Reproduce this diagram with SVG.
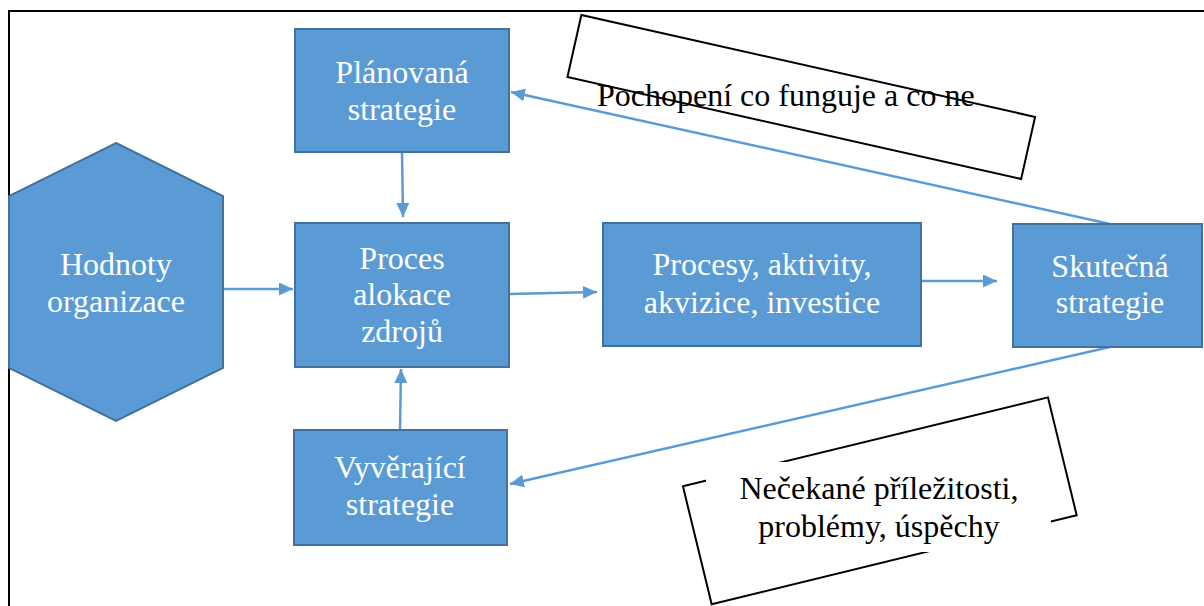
<svg xmlns="http://www.w3.org/2000/svg" width="1204" height="606" viewBox="0 0 1204 606">
<style>
.node{fill:#5B9BD5;stroke:#41719C;stroke-width:2}
.lbl{fill:#fff;text-anchor:middle}
.note{fill:#000}
.conn{stroke:#5B9BD5;stroke-width:2.5;fill:none;marker-end:url(#ah)}
.frame{fill:#fff;stroke:#000;stroke-width:2}
</style>
<defs>
<marker id="ah" markerUnits="userSpaceOnUse" markerWidth="16" markerHeight="14" refX="14" refY="6.5" orient="auto">
<path d="M0,0 L14,6.5 L0,13 z" fill="#5B9BD5"/>
</marker>
</defs>
<rect width="1204" height="606" fill="#fff"/>
<path d="M9,606 V11 H1204" fill="none" stroke="#000" stroke-width="2"/>

<g font-family="'Liberation Serif', 'Times New Roman', serif" font-size="32">
<g id="note-pochopeni">
<rect class="frame" x="-232.5" y="-31.8" width="465" height="63.6" transform="translate(801.25 97) rotate(12.66)"/>
<text class="note" x="597" y="106">Pochopení co funguje a co ne</text>
</g>

<g id="note-necekane">
<rect class="frame" x="-187.8" y="-60.6" width="375.7" height="121.3" transform="translate(879.75 500.75) rotate(-13.7)"/>
<rect x="706" y="462" width="345" height="90" fill="#fff"/>
<text class="note" text-anchor="middle" x="879" y="499">Nečekané příležitosti,</text>
<text class="note" text-anchor="middle" x="879" y="537">problémy, úspěchy</text>
</g>

<g id="connectors">
<line class="conn" x1="402" y1="153" x2="403" y2="217"/>
<line class="conn" x1="223" y1="289" x2="293" y2="289"/>
<line class="conn" x1="400" y1="430" x2="401" y2="369"/>
<line class="conn" x1="509" y1="294" x2="597" y2="292"/>
<line class="conn" x1="921" y1="281" x2="997" y2="281"/>
<line class="conn" x1="1110" y1="224" x2="511" y2="92"/>
<line class="conn" x1="1110" y1="347" x2="510" y2="484"/>
</g>

<g id="hodnoty">
<polygon class="node" points="116,143 223,196 223,368 116,421 9,368 9,196"/>
<text class="lbl" x="116" y="275">Hodnoty</text>
<text class="lbl" x="116" y="312">organizace</text>
</g>

<g id="planovana">
<rect class="node" x="295" y="29" width="214" height="123"/>
<text class="lbl" x="402" y="83">Plánovaná</text>
<text class="lbl" x="402" y="120">strategie</text>
</g>

<g id="proces">
<rect class="node" x="295" y="223" width="214" height="144"/>
<text class="lbl" x="402" y="269">Proces</text>
<text class="lbl" x="402" y="305">alokace</text>
<text class="lbl" x="402" y="342">zdrojů</text>
</g>

<g id="vyverajici">
<rect class="node" x="294" y="430" width="213" height="115"/>
<text class="lbl" x="400" y="478">Vyvěrající</text>
<text class="lbl" x="400" y="515">strategie</text>
</g>

<g id="procesy">
<rect class="node" x="603" y="223" width="318" height="123"/>
<text class="lbl" x="762" y="275">Procesy, aktivity,</text>
<text class="lbl" x="762" y="313">akvizice, investice</text>
</g>

<g id="skutecna">
<rect class="node" x="1013" y="224" width="189" height="123"/>
<text class="lbl" x="1110" y="277">Skutečná</text>
<text class="lbl" x="1110" y="313">strategie</text>
</g>
</g>
</svg>
